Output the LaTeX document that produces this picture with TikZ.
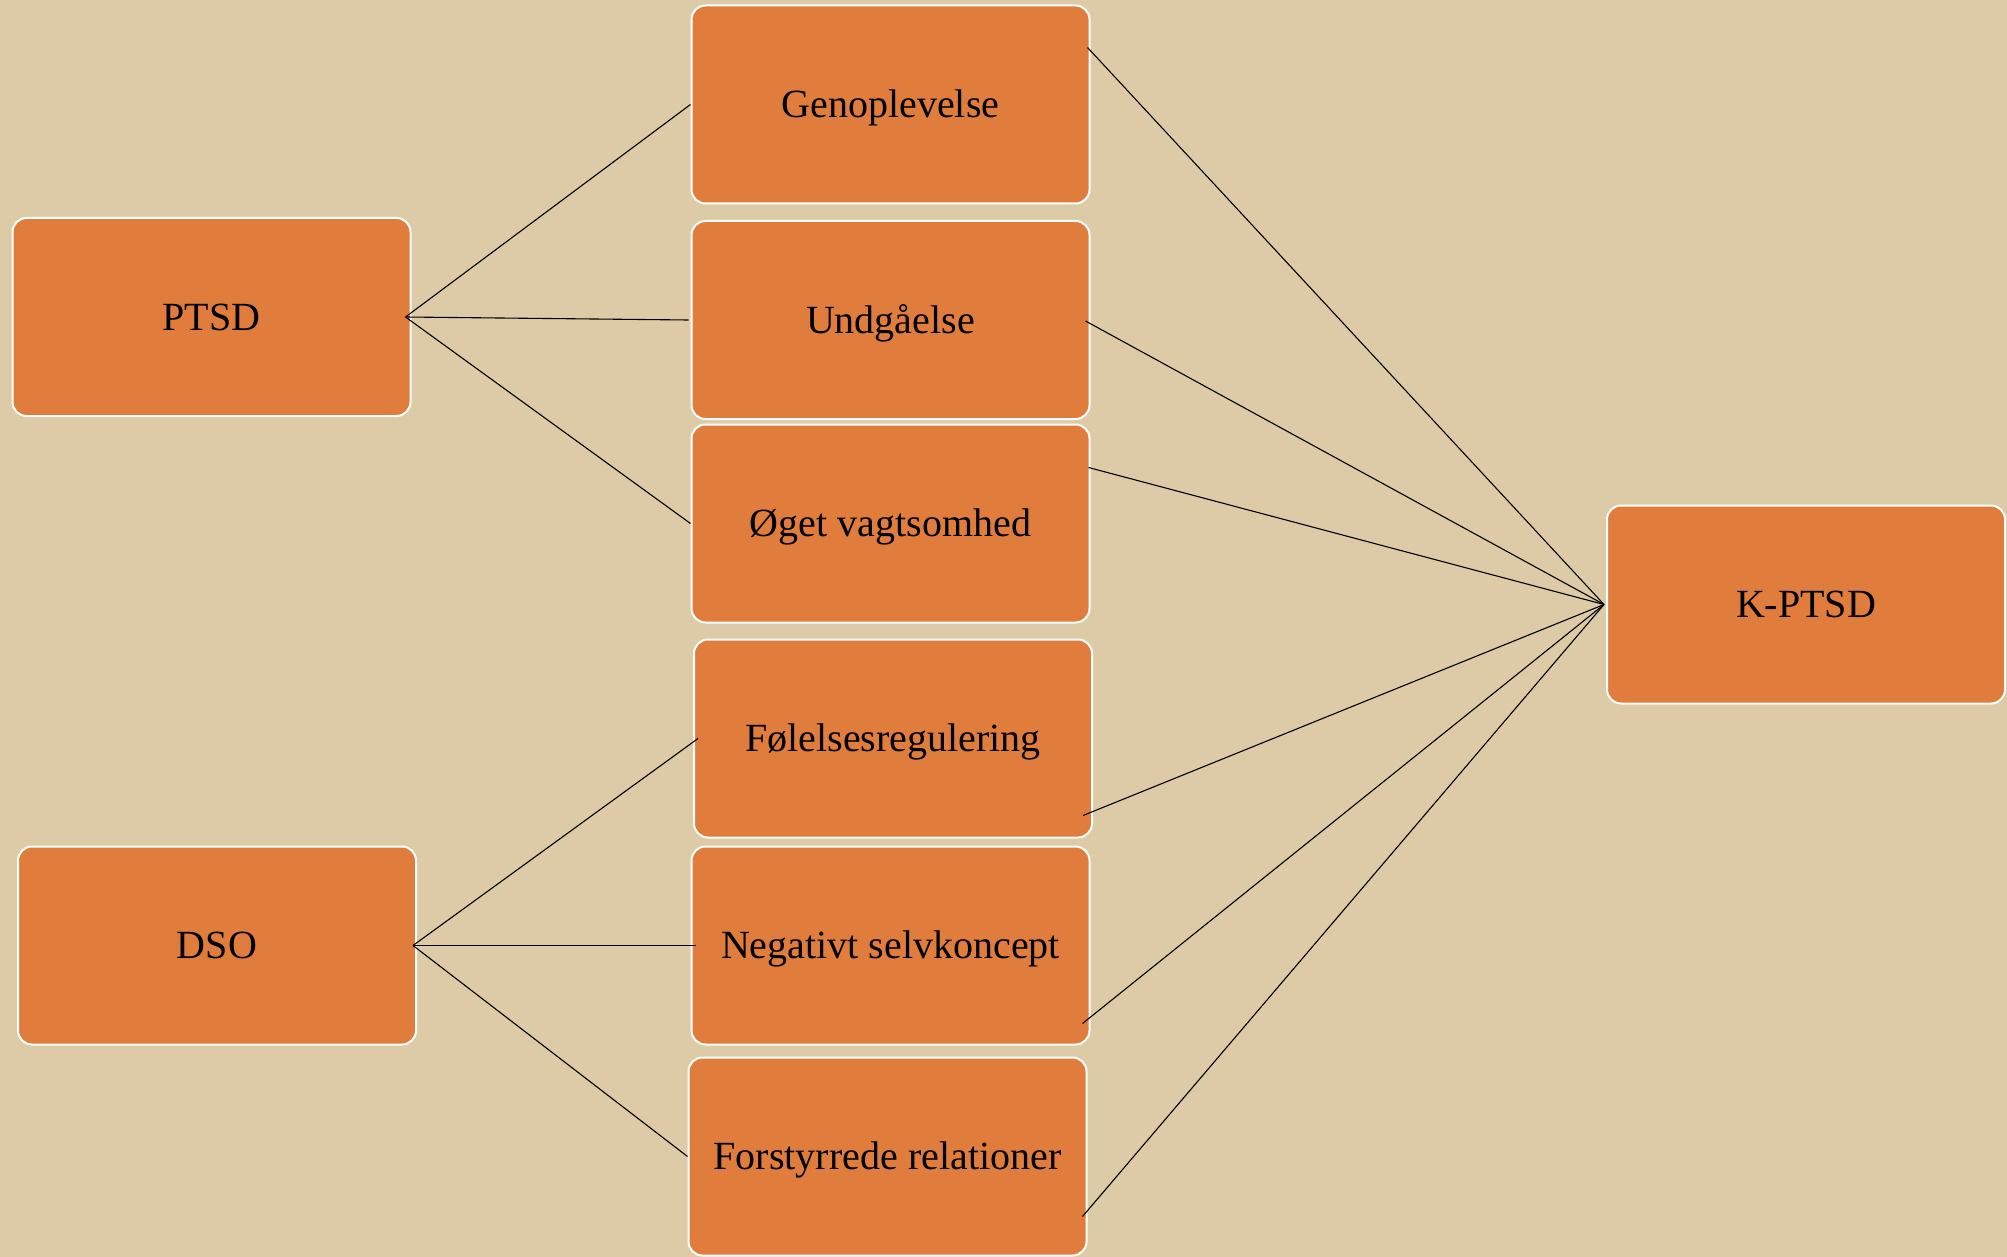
\documentclass[tikz,border=0pt]{standalone}
\usepackage{fontspec}
\setmainfont{Liberation Serif}
\definecolor{bgc}{RGB}{220,203,166}
\definecolor{boxc}{RGB}{224,125,60}
\begin{document}
\begin{tikzpicture}[x=0.5pt,y=-0.5pt,
  box/.style={draw=white,line width=1pt,fill=boxc,rounded corners=7pt,
    minimum width=199pt,minimum height=99pt,inner sep=0pt,
    font=\fontsize{20}{24}\selectfont,text=black,
    text height=13.2pt,text depth=0pt},
  link/.style={draw=black,line width=0.55pt}]
\fill[bgc] (0,0) rectangle (2007,1257);
\useasboundingbox (0,0) rectangle (2007,1257);
\node[box] (ptsd) at (211.5,317) {PTSD};
\node[box] (dso) at (217,945.5) {DSO};
\node[box] (gen) at (890.5,104.5) {Genoplevelse};
\node[box] (und) at (890.5,320) {Undgåelse};
\node[box] (oget) at (890.5,523.5) {Øget vagtsomhed};
\node[box] (fol) at (893,738.5) {Følelsesregulering};
\node[box] (neg) at (890.5,945.5) {Negativt selvkoncept};
\node[box] (for) at (887.5,1156.5) {Forstyrrede relationer};
\node[box] (kptsd) at (1806,604.5) {K-PTSD};
% PTSD links
\draw[link] ([shift={(-6,0)}]ptsd.east) -- (gen.west);
\draw[link] ([shift={(-6,0)}]ptsd.east) -- ([shift={(-2,0)}]und.west);
\draw[link] ([shift={(-6,0)}]ptsd.east) -- (oget.west);
% DSO links
\draw[link] ([shift={(-4,0)}]dso.east) -- ([shift={(5,0)}]fol.west);
\draw[link] ([shift={(-4,0)}]dso.east) -- ([shift={(5,0)}]neg.west);
\draw[link] ([shift={(-4,0)}]dso.east) -- (for.west);
% K-PTSD links
\draw[link] ([shift={(-3,-57)}]gen.east) -- ([shift={(-2,0)}]kptsd.west);
\draw[link] ([shift={(-5,1)}]und.east) -- ([shift={(-2,0)}]kptsd.west);
\draw[link] ([shift={(-2,-56)}]oget.east) -- ([shift={(-2,0)}]kptsd.west);
\draw[link] ([shift={(-10,77)}]fol.east) -- ([shift={(-2,0)}]kptsd.west);
\draw[link] ([shift={(-8,78)}]neg.east) -- ([shift={(-2,0)}]kptsd.west);
\draw[link] ([shift={(-5,60)}]for.east) -- ([shift={(-2,0)}]kptsd.west);
\end{tikzpicture}
\end{document}
